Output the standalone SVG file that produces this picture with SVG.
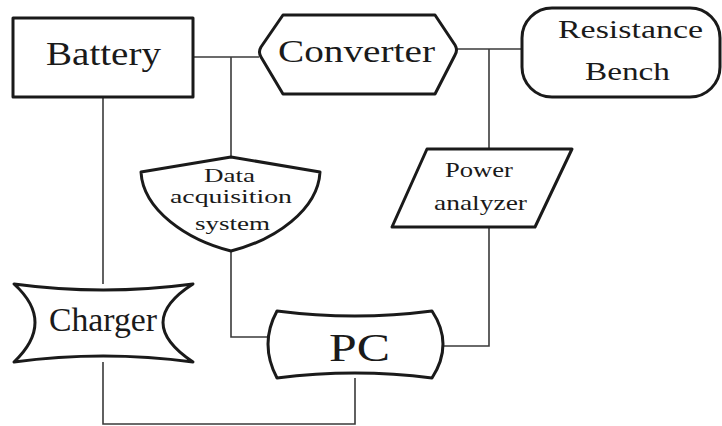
<svg xmlns="http://www.w3.org/2000/svg" width="722" height="426" viewBox="0 0 722 426">
<style>
.n{fill:#fff;stroke:#1a1a1a;stroke-width:3;stroke-linejoin:round}
.c{fill:none;stroke:#3a3a3a;stroke-width:1.6}
text{font-family:"Liberation Serif","Times New Roman",serif;fill:#1a1a1a;text-anchor:middle}
</style>
<rect width="722" height="426" fill="#fff"/>
<g id="connectors">
<path class="c" d="M193,57 H259"/>
<path class="c" d="M231,57 V157"/>
<path class="c" d="M457,49 H522"/>
<path class="c" d="M489,49 V149"/>
<path class="c" d="M231,251 V337 H268"/>
<path class="c" d="M489,227 V346 H443"/>
<path class="c" d="M355,378 V424 H103 V362"/>
<path class="c" d="M103,97 V284"/>
</g>
<g id="battery">
<rect class="n" x="13" y="18" width="180" height="79"/>
<text x="103.5" y="65" font-size="34" textLength="115" lengthAdjust="spacingAndGlyphs">Battery</text>
</g>
<g id="converter">
<path class="n" d="M283,15 L435,15 L455,45 Q458,50 455,55 L435,94 L283,94 L261,57 Q258,52 261,47 Z"/>
<text x="356.5" y="62" font-size="32" textLength="157" lengthAdjust="spacingAndGlyphs">Converter</text>
</g>
<g id="resistance-bench">
<rect class="n" x="522" y="8" width="198" height="89" rx="30" ry="30"/>
<text x="630.5" y="38" font-size="25" textLength="145" lengthAdjust="spacingAndGlyphs">Resistance</text>
<text x="627.5" y="80" font-size="25" textLength="85" lengthAdjust="spacingAndGlyphs">Bench</text>
</g>
<g id="data-acquisition">
<path class="n" d="M141,172 L231,157 L320,172 C318,210 275,240 231,251 C187,240 143,210 141,172 Z"/>
<text x="229.5" y="182" font-size="19" textLength="51" lengthAdjust="spacingAndGlyphs">Data</text>
<text x="231" y="203" font-size="19" textLength="122" lengthAdjust="spacingAndGlyphs">acquisition</text>
<text x="232.5" y="230" font-size="19" textLength="75" lengthAdjust="spacingAndGlyphs">system</text>
</g>
<g id="power-analyzer">
<path class="n" d="M427,149 L572,149 L535,227 L392,227 Z"/>
<text x="479" y="177" font-size="21" textLength="68" lengthAdjust="spacingAndGlyphs">Power</text>
<text x="480.5" y="210" font-size="21" textLength="93" lengthAdjust="spacingAndGlyphs">analyzer</text>
</g>
<g id="charger">
<path class="n" d="M14,284 Q103,296 193,284 Q133,322 193,362 Q103,350 14,362 Q56,322 14,284 Z"/>
<text x="103" y="331" font-size="34" textLength="108" lengthAdjust="spacingAndGlyphs">Charger</text>
</g>
<g id="pc">
<path class="n" d="M277,311 Q355,321 432,311 Q454,344 432,378 Q355,368 277,378 Q259,344 277,311 Z"/>
<text x="359.5" y="361" font-size="41" textLength="61" lengthAdjust="spacingAndGlyphs">PC</text>
</g>
</svg>
